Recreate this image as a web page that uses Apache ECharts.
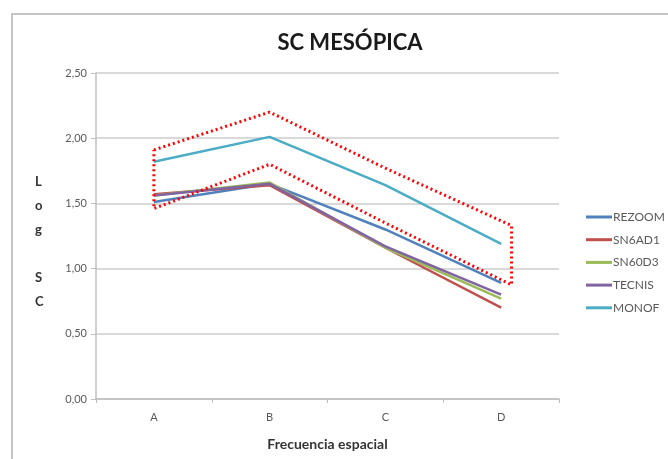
<!DOCTYPE html>
<html>
<head>
<meta charset="utf-8">
<script src="https://cdn.jsdelivr.net/npm/echarts@6/dist/echarts.min.js"></script>
<style>html,body{margin:0;padding:0;background:#fff}#c{width:668px;height:459px}</style>
</head>
<body>
<div id="c"></div>
<script>
var categories = ['A', 'B', 'C', 'D'];
var rezoom = [1.51, 1.65, 1.30, 0.89];
var sn6ad1 = [1.57, 1.64, 1.16, 0.70];
var sn60d3 = [1.56, 1.66, 1.16, 0.77];
var tecnis = [1.56, 1.65, 1.17, 0.80];
var monof  = [1.82, 2.01, 1.64, 1.19];
var boxX     = [0, 1, 2, 3.09];
var boxUpper = [1.91, 2.20, 1.77, 1.33];
var boxLower = [1.46, 1.80, 1.35, 0.875];
var yTicks = [0, 0.5, 1, 1.5, 2, 2.5];

var seriesNames = ['REZOOM', 'SN6AD1', 'SN60D3', 'TECNIS', 'MONOF'];
var seriesData = [rezoom, sn6ad1, sn60d3, tecnis, monof];
var colors = ['#4F81BD', '#C0504D', '#9BBB59', '#8064A2', '#4BACC6'];

var boxPts = [];
for (var i = 0; i < boxX.length; i++) boxPts.push([boxX[i], boxUpper[i]]);
for (var j = boxX.length - 1; j >= 0; j--) boxPts.push([boxX[j], boxLower[j]]);
boxPts.push([boxX[0], boxUpper[0]]);

var font = 'Lato, "Open Sans", sans-serif';
var series = seriesNames.map(function (n, k) {
  return {
    name: n, type: 'line', data: seriesData[k], symbol: 'none',
    lineStyle: { color: colors[k], width: 2.5 }, itemStyle: { color: colors[k] },
    z: 3
  };
});
series.push({
  name: 'box', type: 'line', xAxisIndex: 1, data: boxPts, symbol: 'none',
  lineStyle: { color: '#FF0000', width: 3, type: [2, 3] }, z: 4, silent: true
});

var chart = echarts.init(document.getElementById('c'), null, { renderer: 'canvas' });
chart.setOption({
  animation: false,
  backgroundColor: '#fff',
  title: {
    text: 'SC MESÓPICA', left: 345, top: 27, textAlign: 'center',
    textStyle: { fontFamily: font, fontWeight: 'bold', fontSize: 22, color: '#1a1a1a' }
  },
  graphic: [
    { type: 'rect', shape: { x: 12, y: 14, width: 700, height: 500 }, style: { fill: 'none', stroke: '#b3b3b3', lineWidth: 1.5 }, silent: true, z: -10 },
    { type: 'text', left: 35, top: 170, style: { text: 'L\no\ng\n\nS\nC', font: 'bold 13px ' + font, fill: '#333', lineHeight: 24, align: 'center' } }
  ],
  legend: {
    data: seriesNames, orient: 'vertical', left: 581, top: 206,
    icon: 'rect', itemWidth: 26, itemHeight: 3, itemGap: 10.7,
    textStyle: { fontFamily: font, fontSize: 12, color: '#595959', padding: [0, 0, 0, -4] }
  },
  grid: { left: 96, right: 109, top: 73, bottom: 60, containLabel: false },
  xAxis: [{
    type: 'category', data: categories, boundaryGap: true,
    axisLine: { lineStyle: { color: '#bfbfbf', width: 1.5 } },
    axisTick: { show: true, length: 4, lineStyle: { color: '#bfbfbf' } },
    axisLabel: { fontFamily: font, fontSize: 11, color: '#595959', margin: 13 },
    name: 'Frecuencia espacial', nameLocation: 'middle', nameGap: 38,
    nameTextStyle: { fontFamily: font, fontWeight: 'bold', fontSize: 14, color: '#333' }
  }, {
    type: 'value', min: -0.5, max: 3.5, show: false
  }],
  yAxis: {
    type: 'value', min: 0, max: 2.5, interval: 0.5,
    axisLine: { show: true, onZero: false, lineStyle: { color: '#bfbfbf', width: 1.5 } },
    axisTick: { show: true, length: 5, lineStyle: { color: '#bfbfbf' } },
    splitLine: { lineStyle: { color: '#d9d9d9', width: 2 } },
    axisLabel: {
      fontFamily: font, fontSize: 11, color: '#595959', margin: 9,
      formatter: function (v) { return v.toFixed(2).replace('.', ','); }
    }
  },
  series: series
});
</script>
</body>
</html>
